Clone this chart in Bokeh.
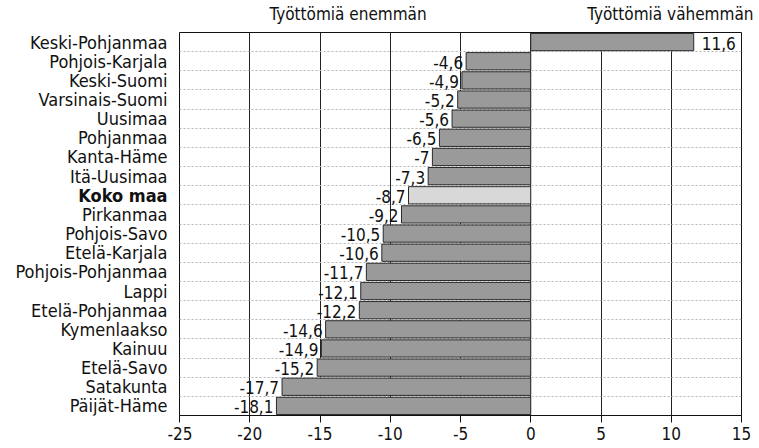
from bokeh.plotting import figure
from bokeh.layouts import row
from bokeh.models import Range1d, FactorRange, ColumnDataSource, FixedTicker, LinearAxis
from bokeh.core.properties import value
from bokeh.embed import file_html
from bokeh.resources import INLINE

regions = ["Keski-Pohjanmaa", "Pohjois-Karjala", "Keski-Suomi", "Varsinais-Suomi", "Uusimaa",
           "Pohjanmaa", "Kanta-Häme", "Itä-Uusimaa", "Koko maa", "Pirkanmaa", "Pohjois-Savo",
           "Etelä-Karjala", "Pohjois-Pohjanmaa", "Lappi", "Etelä-Pohjanmaa", "Kymenlaakso",
           "Kainuu", "Etelä-Savo", "Satakunta", "Päijät-Häme"]
changes = [11.6, -4.6, -4.9, -5.2, -5.6, -6.5, -7, -7.3, -8.7, -9.2, -10.5, -10.6, -11.7,
           -12.1, -12.2, -14.6, -14.9, -15.2, -17.7, -18.1]
x_ticks = [-25, -20, -15, -10, -5, 0, 5, 10, 15]
x_tick_labels = ["-25", "-20", "-15", "-10", "-5", "0", "5", "10", "15"]
header_pos = [-13, 10]
header_text = ["Työttömiä enemmän", "Työttömiä vähemmän"]
total_label = "Koko maa"

FONT = "'DejaVu Sans Condensed', 'Liberation Sans', sans-serif"
INK = "#111111"

def fmt(v):
    s = ("%.1f" % v).rstrip("0").rstrip(".")
    return s.replace(".", ",")

colors = ["#d8d8d8" if r == total_label else "#9a9a9a" for r in regions]
styles = ["bold" if r == total_label else "normal" for r in regions]
n = len(regions)

src = ColumnDataSource(dict(region=regions, val=changes, color=colors, style=styles,
                            xr=[1] * n))
neg = ColumnDataSource(dict(region=[r for r, v in zip(regions, changes) if v < 0],
                            val=[v for v in changes if v < 0],
                            lab=[fmt(v) for v in changes if v < 0]))
pos = ColumnDataSource(dict(region=[r for r, v in zip(regions, changes) if v >= 0],
                            val=[v for v in changes if v >= 0],
                            lab=[fmt(v) for v in changes if v >= 0]))

y_range = FactorRange(factors=list(reversed(regions)))

# ---- main chart
p = figure(frame_width=562, frame_height=383,
           x_range=Range1d(x_ticks[0], x_ticks[-1]), y_range=y_range,
           output_backend="svg", toolbar_location=None,
           min_border_left=12, min_border_top=31, min_border_right=12, min_border_bottom=5)
p.background_fill_color = "white"
p.border_fill_color = "white"
p.outline_line_color = INK
p.outline_line_width = 1

p.hspan(y=list(range(1, n)), line_color="#b4b4b4", line_dash="2 2", line_width=1)

p.hbar(y="region", left=0, right="val", height=0.9, source=src,
       fill_color="color", line_color="#2a2a2a", line_width=1)

p.text(x="val", y="region", text="lab", source=neg, x_offset=-3, y_offset=1,
       text_align="right", text_baseline="middle", text_font=value(FONT),
       text_font_size="17px", text_color=INK)
p.text(x="val", y="region", text="lab", source=pos, x_offset=8, y_offset=1,
       text_align="left", text_baseline="middle", text_font=value(FONT),
       text_font_size="17px", text_color=INK)

p.yaxis.visible = False
p.ygrid.grid_line_color = None

p.xaxis.ticker = FixedTicker(ticks=x_ticks)
p.xaxis.major_label_overrides = {t: s for t, s in zip(x_ticks, x_tick_labels)}
p.xaxis.minor_tick_line_color = None
p.xaxis.major_tick_in = 0
p.xaxis.major_tick_out = 7
p.xaxis.axis_line_color = INK
p.xaxis.major_tick_line_color = INK
p.xaxis.major_label_text_font = FONT
p.xaxis.major_label_text_font_size = "17px"
p.xaxis.major_label_text_color = INK
p.xaxis.major_label_standoff = 4

p.xgrid.ticker = FixedTicker(ticks=x_ticks)
p.xgrid.grid_line_color = "#222222"
p.xgrid.grid_line_width = 1

# header texts as a tick-less axis above the frame
head = LinearAxis(ticker=FixedTicker(ticks=header_pos),
                  major_label_overrides={k: t for k, t in zip(header_pos, header_text)})
head.axis_line_color = None
head.major_tick_line_color = None
head.minor_tick_line_color = None
head.major_label_standoff = 3
head.major_label_text_font = FONT
head.major_label_text_font_size = "17px"
head.major_label_text_color = INK
p.add_layout(head, "above")

# ---- category labels panel
lab = figure(frame_width=167, frame_height=383, x_range=Range1d(0, 1), y_range=y_range,
             output_backend="svg", toolbar_location=None,
             min_border_left=0, min_border_right=0, min_border_top=31, min_border_bottom=5)
lab.axis.visible = False
lab.grid.grid_line_color = None
lab.outline_line_color = None
lab.background_fill_color = "white"
lab.border_fill_color = "white"
lab.text(x="xr", y="region", text="region", source=src, text_align="right",
         text_baseline="middle", text_font=value(FONT), text_font_size="18px",
         text_font_style="style", text_color=INK)

layout = row(lab, p)
open("out.html", "w").write(file_html(layout, INLINE))
